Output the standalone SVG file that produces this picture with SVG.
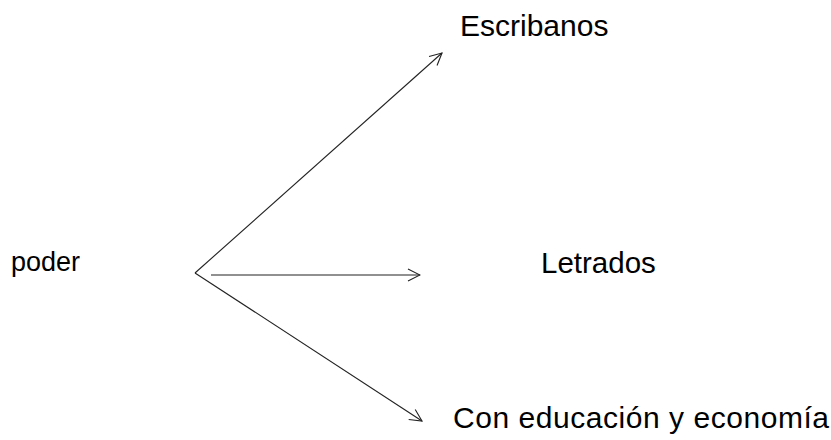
<svg xmlns="http://www.w3.org/2000/svg" width="831" height="440" viewBox="0 0 831 440">
<defs>
<style>
text{font-family:"Liberation Sans",Arial,sans-serif;font-size:30px;fill:#000}
.c{stroke:#222;stroke-width:1.1;fill:none}
</style>
<marker id="ah" viewBox="0 0 14 14" refX="13" refY="7" markerWidth="14" markerHeight="14" markerUnits="userSpaceOnUse" orient="auto">
<path d="M1,1 L13,7 L1,13" fill="none" stroke="#222" stroke-width="1.1"/>
</marker>
</defs>
<rect width="831" height="440" fill="#fff"/>
<g id="n-poder"><text x="11" y="271" style="font-size:27px">poder</text></g>
<g id="n-escribanos"><text x="460" y="36">Escribanos</text></g>
<g id="n-letrados"><text x="541" y="273" style="font-size:29.5px">Letrados</text></g>
<g id="n-con"><text x="453" y="428" textLength="376" lengthAdjust="spacing">Con educación y economía</text></g>
<g id="connectors">
<path class="c" d="M195,273 L442,53" marker-end="url(#ah)"/>
<path class="c" d="M211,275 L420,275" marker-end="url(#ah)"/>
<path class="c" d="M195,273 L422,421" marker-end="url(#ah)"/>
</g>
</svg>
